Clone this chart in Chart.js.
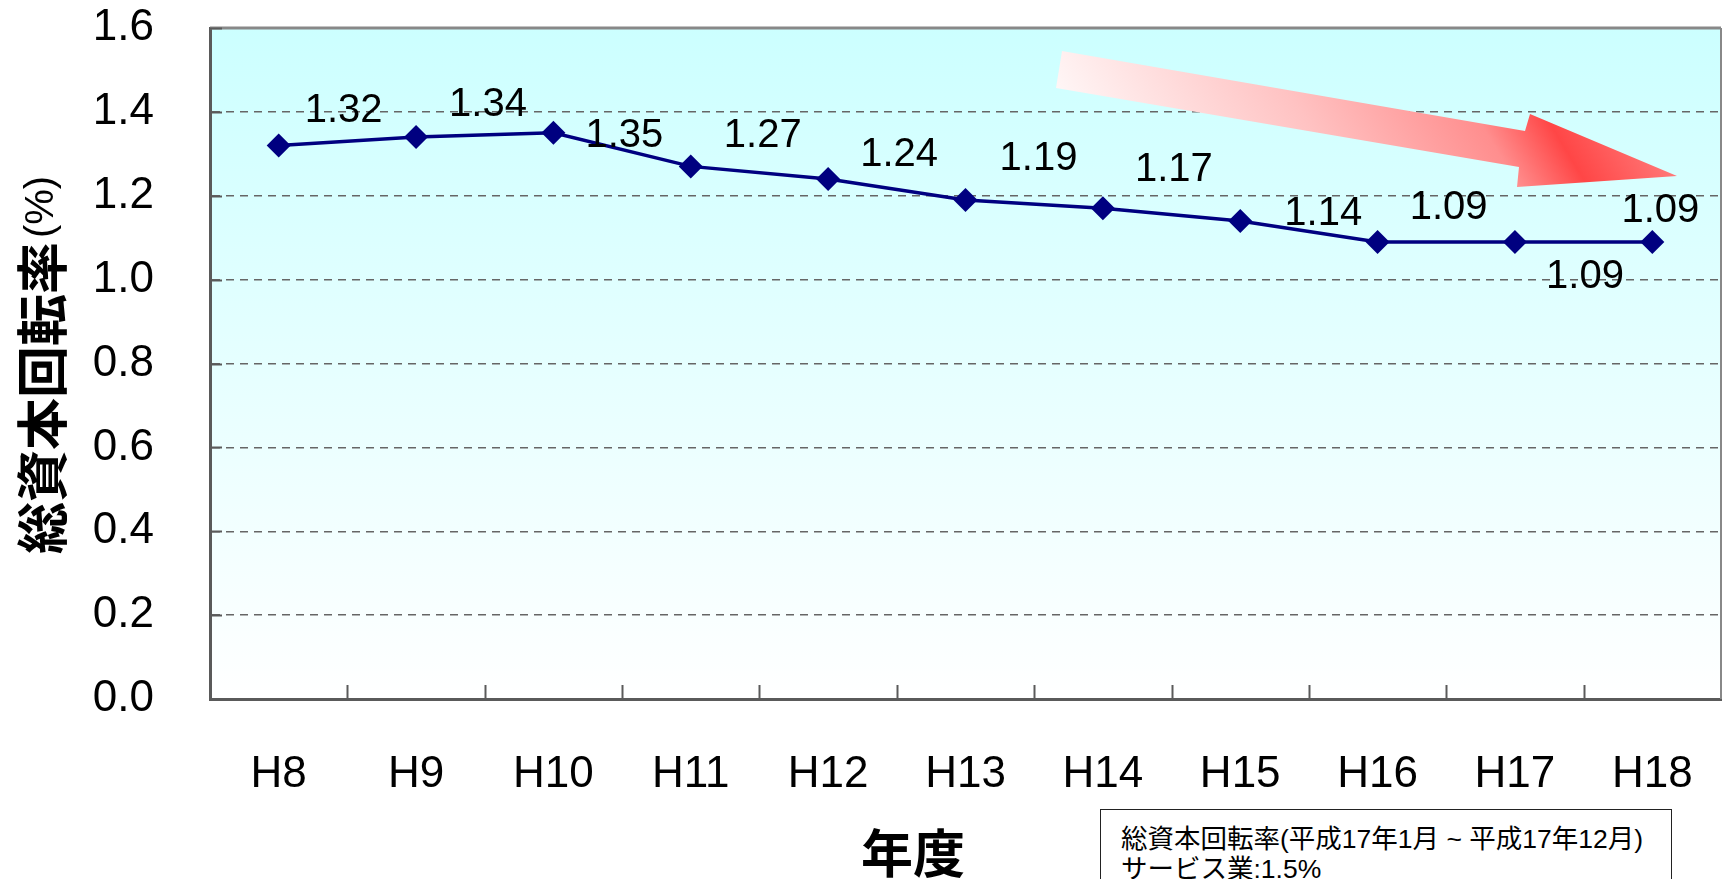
<!DOCTYPE html>
<html lang="ja">
<head>
<meta charset="utf-8">
<title>総資本回転率の推移</title>
<script src="https://cdn.jsdelivr.net/npm/chart.js@4/dist/chart.umd.min.js"></script>
<style>
  html, body { margin: 0; padding: 0; background: #fff; overflow: hidden; }
  .chart-wrap { position: relative; width: 1723px; height: 879px; }
  .chart-wrap canvas { position: absolute; left: 0; top: 0; }
  .note-box {
    position: absolute; left: 1100px; top: 809px; width: 550px; height: 100px;
    padding: 14px 0 0 20px; border: 1.5px solid #222; background: #fff;
    font: 26.5px/30px "Liberation Sans", "Noto Sans CJK JP", sans-serif; color: #000;
  }
</style>
</head>
<body>
<div class="chart-wrap">
  <canvas id="turnover" width="1723" height="879"></canvas>
  <div class="note-box" data-note></div>
</div>
<script>
const years = ['H8', 'H9', 'H10', 'H11', 'H12', 'H13', 'H14', 'H15', 'H16', 'H17', 'H18'];
const turnoverRates = [1.32, 1.34, 1.35, 1.27, 1.24, 1.19, 1.17, 1.14, 1.09, 1.09, 1.09];
const yRange = [0, 1.6];
const yStep = 0.2;
const yTitle = ['総資本回転率', '(%)'];
const xTitle = '年度';
const noteLines = ['総資本回転率(平成17年1月 ~ 平成17年12月)', 'サービス業:1.5%'];

// where each value label sits relative to its marker, in px
const labelOffsets = [[65, -34], [72, -32], [71, 3], [72, -30], [71, -24], [73, -41], [71, -38], [83, -7], [71, -34], [70, 35], [8, -31]];

const latin = '"Liberation Sans", Arial, sans-serif';
const cjk = '"Noto Sans CJK JP", sans-serif';
const axisColor = '#5a5a5a';

document.querySelector('[data-note]').innerHTML = noteLines.map((line) => `<div>${line}</div>`).join('');

// cyan-to-white fill behind the plot
const plotBackground = {
  id: 'plotBackground',
  beforeDraw(chart) {
    const { ctx, chartArea: a } = chart;
    const g = ctx.createLinearGradient(0, a.top, 0, a.bottom);
    g.addColorStop(0, '#ccffff');
    g.addColorStop(1, '#ffffff');
    ctx.save();
    ctx.fillStyle = g;
    ctx.fillRect(a.left, a.top, a.right - a.left, a.bottom - a.top);
    ctx.restore();
  }
};

// frame, inward tick marks and the downward trend arrow
const plotDecor = {
  id: 'plotDecor',
  beforeDatasetsDraw(chart) {
    const { ctx, chartArea: a, scales: { x, y } } = chart;
    ctx.save();
    ctx.strokeStyle = '#888';
    ctx.lineWidth = 3;
    ctx.beginPath();
    ctx.moveTo(a.left, a.top);
    ctx.lineTo(a.right, a.top);
    ctx.stroke();
    ctx.lineWidth = 2;
    ctx.beginPath();
    ctx.moveTo(a.right, a.top);
    ctx.lineTo(a.right, a.bottom);
    ctx.stroke();

    ctx.strokeStyle = axisColor;
    ctx.lineWidth = 2;
    const half = (x.getPixelForValue(1) - x.getPixelForValue(0)) / 2;
    for (let i = 1; i < years.length; i++) {
      const px = Math.round(x.getPixelForValue(i) - half) + 0.5;
      ctx.beginPath();
      ctx.moveTo(px, a.bottom);
      ctx.lineTo(px, a.bottom - 14);
      ctx.stroke();
    }
    y.ticks.forEach((t) => {
      const py = Math.round(y.getPixelForValue(t.value)) + 0.5;
      ctx.beginPath();
      ctx.moveTo(a.left, py);
      ctx.lineTo(a.left + 12, py);
      ctx.stroke();
    });

    const arrow = [[1062, 51], [1525, 131], [1530, 114], [1677, 176], [1517, 187], [1519, 167], [1056, 88]];
    const g = ctx.createLinearGradient(1100, 160, 1523, -94);
    g.addColorStop(0, '#fff6f6');
    g.addColorStop(0.4, '#ffc2c2');
    g.addColorStop(0.7, '#ff8e8e');
    g.addColorStop(0.82, '#ff4646');
    g.addColorStop(1, '#ff7c7c');
    ctx.fillStyle = g;
    ctx.beginPath();
    arrow.forEach(([px, py], i) => (i ? ctx.lineTo(px, py) : ctx.moveTo(px, py)));
    ctx.closePath();
    ctx.fill();
    ctx.restore();
  }
};

// value labels next to each marker, plus the two axis titles
const textLayer = {
  id: 'textLayer',
  afterDraw(chart) {
    const { ctx } = chart;
    const points = chart.getDatasetMeta(0).data;
    ctx.save();
    ctx.fillStyle = '#000';
    ctx.font = `40px ${latin}`;
    ctx.textAlign = 'center';
    ctx.textBaseline = 'middle';
    points.forEach((pt, i) => {
      const [dx, dy] = labelOffsets[i];
      ctx.fillText(turnoverRates[i].toFixed(2), pt.x + dx, pt.y + dy);
    });

    ctx.font = `bold 52px ${cjk}`;
    ctx.fillText(xTitle, 913, 853);

    ctx.translate(42, 367);
    ctx.rotate(-Math.PI / 2);
    ctx.textAlign = 'left';
    ctx.font = `bold 52px ${cjk}`;
    const w1 = ctx.measureText(yTitle[0]).width;
    ctx.font = `40px ${latin}`;
    const w2 = ctx.measureText(yTitle[1]).width;
    const start = -(w1 + w2) / 2;
    ctx.font = `bold 52px ${cjk}`;
    ctx.fillText(yTitle[0], start, 0);
    ctx.font = `40px ${latin}`;
    ctx.fillText(yTitle[1], start + w1 + 4, 0);
    ctx.restore();
  }
};

// fixed axis sizes so the plot area lands at 210..1721 x 28..699
function fitX(scale) {
  scale.height = 180;
  scale.paddingLeft = 0;
  scale.paddingRight = 0;
}
function fitY(scale) {
  scale.width = 210;
  scale.paddingTop = 0;
  scale.paddingBottom = 0;
}

Chart.defaults.font.family = latin;
Chart.defaults.color = '#000';

new Chart(document.getElementById('turnover'), {
  type: 'line',
  data: {
    labels: years,
    datasets: [{
      data: turnoverRates,
      borderColor: '#000080',
      borderWidth: 3.5,
      pointStyle: 'rectRot',
      pointRadius: 12,
      pointBackgroundColor: '#000080',
      pointBorderWidth: 0,
      tension: 0,
      clip: false
    }]
  },
  options: {
    responsive: false,
    animation: false,
    layout: { autoPadding: false, padding: { top: 28, right: 2, left: 0, bottom: 0 } },
    plugins: { legend: { display: false }, tooltip: { enabled: false } },
    scales: {
      x: {
        offset: true,
        grid: { display: false, drawTicks: false },
        border: { display: true, color: axisColor, width: 3 },
        // the tall line box pushes the labels down instead of tick padding
        ticks: { font: { size: 44, lineHeight: '152px' }, padding: 0, maxRotation: 0 },
        afterFit: fitX
      },
      y: {
        min: yRange[0],
        max: yRange[1],
        grid: {
          drawTicks: false,
          lineWidth: 1.5,
          color: (c) => (c.tick && c.tick.value > yRange[0] + 1e-9 && c.tick.value < yRange[1] - 1e-9 ? '#666' : 'rgba(0,0,0,0)')
        },
        border: { display: true, color: axisColor, width: 3, dash: [8, 6] },
        ticks: { stepSize: yStep, font: { size: 44 }, padding: 56, callback: (v) => Number(v).toFixed(1) },
        afterFit: fitY
      }
    }
  },
  plugins: [plotBackground, plotDecor, textLayer]
});
</script>
</body>
</html>
